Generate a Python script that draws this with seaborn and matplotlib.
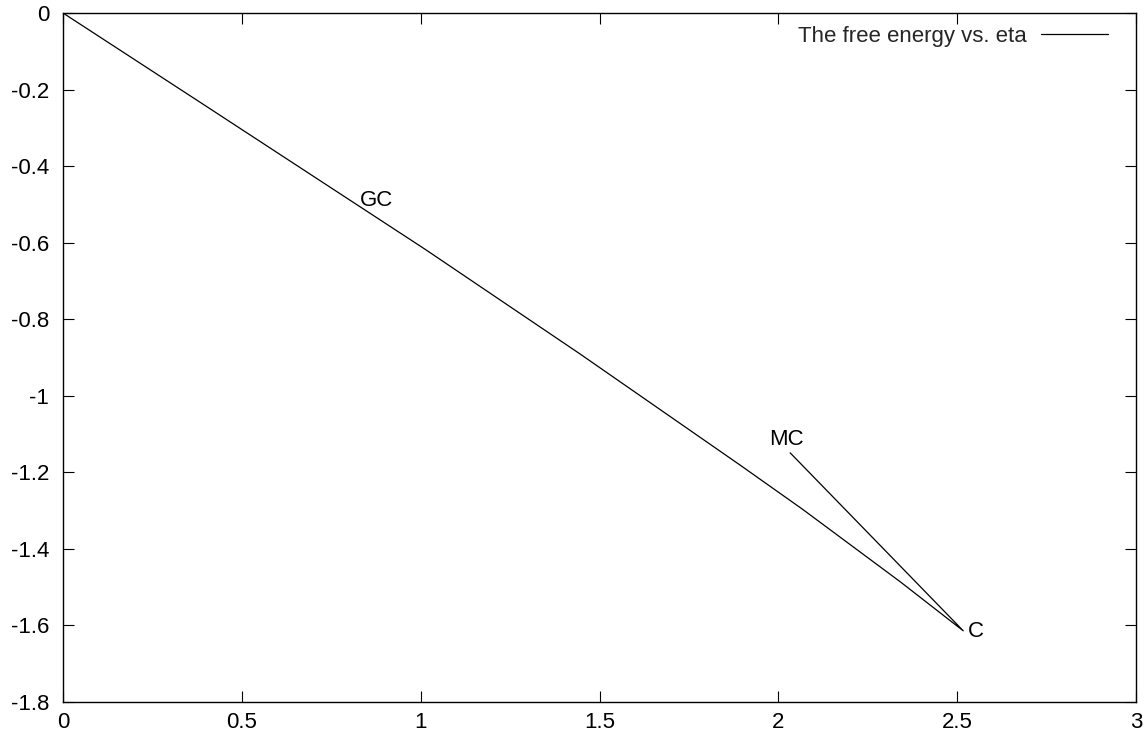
import matplotlib
matplotlib.use("Agg")
import matplotlib.pyplot as plt
import seaborn as sns
import pandas as pd

# Free energy path: from GC (eta=0) down to C, then back up toward MC
eta = [0.0, 0.383, 1.012, 1.446, 1.893, 2.067, 2.341, 2.517, 2.033]
free_energy = [0.0, -0.233, -0.617, -0.891, -1.181, -1.296, -1.486, -1.614, -1.149]

# Point labels
label_text = ["GC", "MC", "C"]
label_x = [0.83, 1.975, 2.53]
label_y = [-0.49, -1.115, -1.617]

x_ticks = [0, 0.5, 1, 1.5, 2, 2.5, 3]
x_tick_labels = ["0", "0.5", "1", "1.5", "2", "2.5", "3"]
y_ticks = [0, -0.2, -0.4, -0.6, -0.8, -1.0, -1.2, -1.4, -1.6, -1.8]
y_tick_labels = ["0", "-0.2", "-0.4", "-0.6", "-0.8", "-1", "-1.2", "-1.4", "-1.6", "-1.8"]

sns.set_theme(style="ticks")
plt.rcParams["font.family"] = ["Liberation Sans", "DejaVu Sans"]

FS = 16

df = pd.DataFrame({"eta": eta, "F": free_energy})

fig = plt.figure(figsize=(11.46, 7.36), dpi=100)
ax = fig.add_axes([63 / 1146, 1 - 702 / 736, (1136 - 63) / 1146, (702 - 13) / 736])

sns.lineplot(data=df, x="eta", y="F", sort=False, estimator=None, ax=ax,
             color="black", linewidth=0.9, label="The free energy vs. eta")

for t, x, y in zip(label_text, label_x, label_y):
    ax.text(x, y, t, fontsize=FS, ha="left", va="center", color="black")

ax.set_xlim(0, 3)
ax.set_ylim(-1.8, 0)
ax.set_xticks(x_ticks)
ax.set_xticklabels(x_tick_labels)
ax.set_yticks(y_ticks)
ax.set_yticklabels(y_tick_labels)
ax.set_xlabel("")
ax.set_ylabel("")

for s in ax.spines.values():
    s.set_visible(True)
    s.set_linewidth(1.0)
    s.set_color("black")

ax.tick_params(axis="both", which="major", direction="in", length=8, width=0.8,
               top=True, right=True, labelsize=FS, colors="black")
ax.tick_params(axis="x", pad=7)
ax.tick_params(axis="y", pad=10)

ax.legend(loc="upper right", bbox_to_anchor=(0.974, 0.981), frameon=False,
          markerfirst=False, fontsize=FS, handlelength=3.0, handletextpad=0.67,
          borderaxespad=0, borderpad=0)

fig.savefig("out.png", dpi=100)
